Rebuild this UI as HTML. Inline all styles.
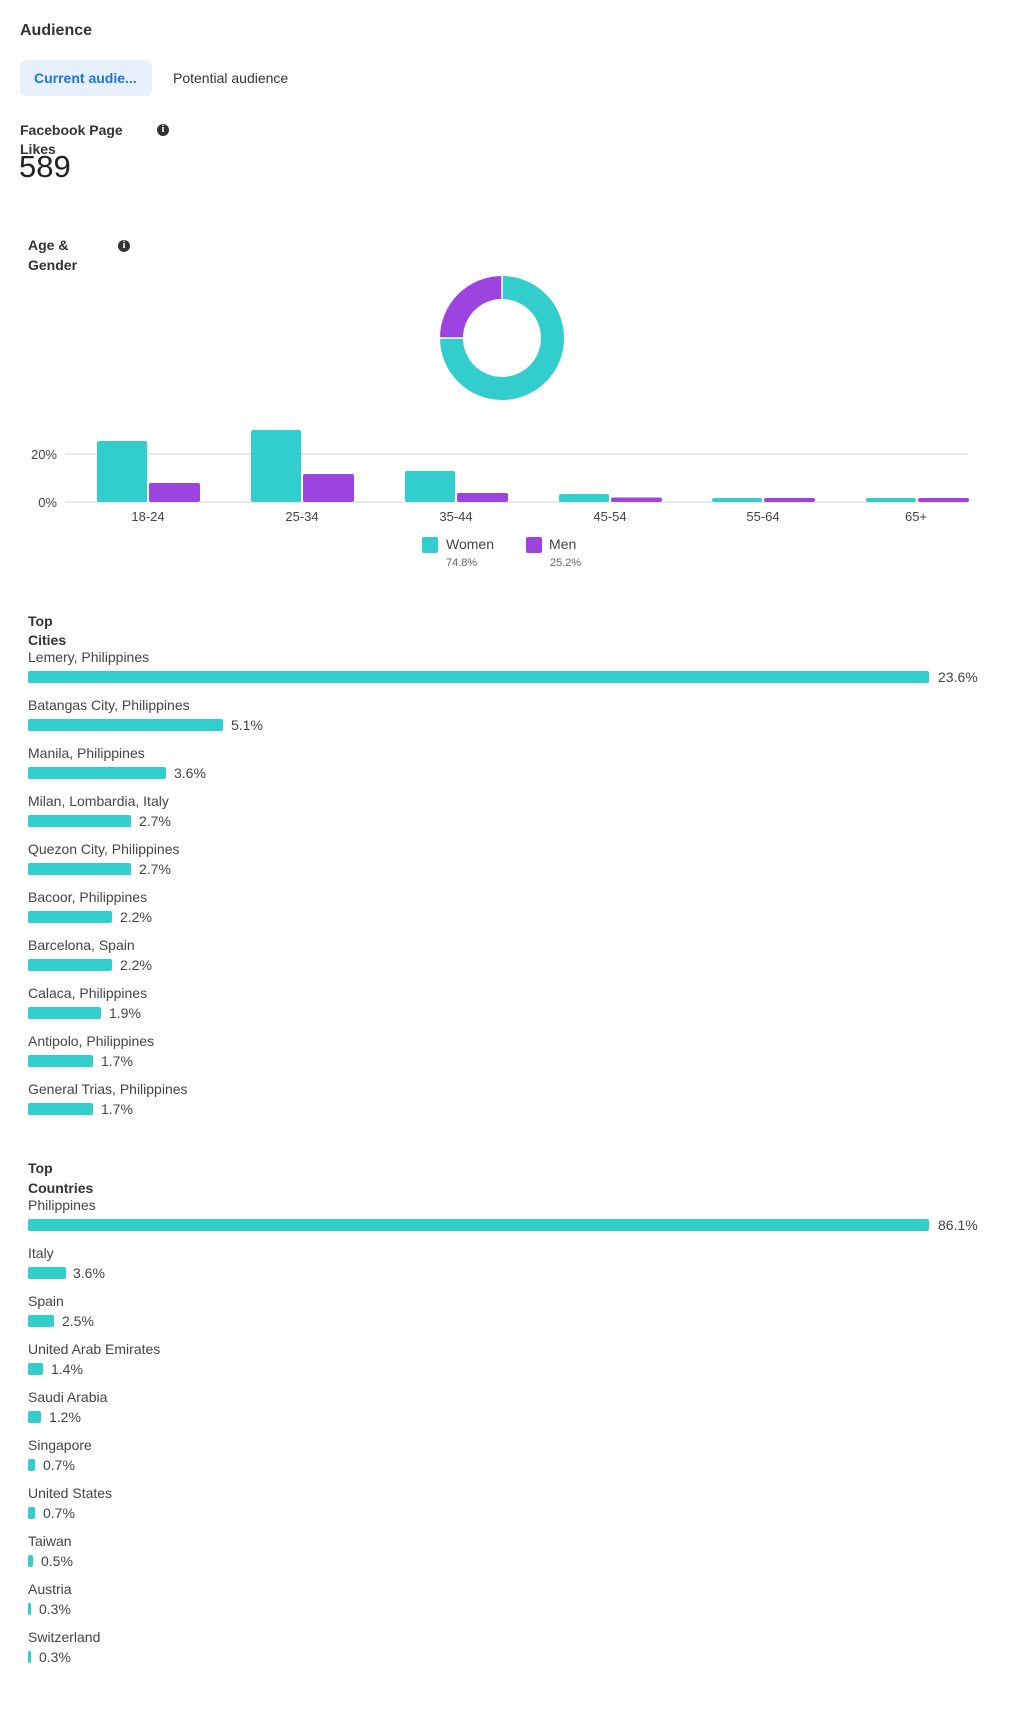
<!DOCTYPE html>
<html><head><meta charset="utf-8"><style>
body{margin:0;width:1020px;height:1711px;background:#fff;position:relative;font-family:"Liberation Sans",Arial,sans-serif;color:#444;overflow:hidden}
.a{position:absolute;white-space:nowrap}
.t{font-size:14px;line-height:16px;color:#444}
.b{font-weight:bold;color:#333}
.bar{position:absolute;height:12px;background:#32cdcd;border-radius:2px}
.info{position:absolute;width:12px;height:12px;border-radius:50%;background:#333;color:#fff;font-size:10px;line-height:12px;text-align:center;font-weight:bold;font-family:"Liberation Serif",serif}
</style></head><body>
<div class="a" style="left:20px;top:21px;font-size:16px;line-height:20px;color:#333;font-weight:bold">Audience</div>
<div class="a" style="left:20px;top:60px;width:132px;height:36px;background:#e7f0fd;border-radius:6px"></div>
<div class="a" style="left:34px;top:70px;font-size:14px;line-height:16px;color:#1a73e8;font-weight:bold">Current audie...</div>
<div class="a t" style="left:173px;top:70px;color:#333">Potential audience</div>
<div class="a t b" style="left:20px;top:122px">Facebook Page</div>
<div class="a t b" style="left:20px;top:141px">Likes</div>
<div class="info" style="left:157px;top:124px">i</div>
<div class="a" style="left:19px;top:149px;font-size:31px;line-height:36px;color:#222">589</div>

<div class="a t b" style="left:28px;top:237px">Age &amp;</div>
<div class="a t b" style="left:28px;top:257px">Gender</div>
<div class="info" style="left:118px;top:240px">i</div>

<svg class="a" style="left:0;top:0" width="1020" height="600">
<circle cx="502" cy="338" r="50.5" fill="none" stroke="#32cdcd" stroke-width="23" stroke-dasharray="237.3 80" transform="rotate(-90 502 338)"/>
<circle cx="502" cy="338" r="50.5" fill="none" stroke="#9d44e0" stroke-width="23" stroke-dasharray="80 317.3" stroke-dashoffset="-237.3" transform="rotate(-90 502 338)"/>
<line x1="502" y1="275" x2="502" y2="299" stroke="#fff" stroke-width="1.5"/>
<line x1="439" y1="338" x2="463" y2="338" stroke="#fff" stroke-width="1.5"/>
<line x1="65" y1="454" x2="968" y2="454" stroke="#e4e4e4" stroke-width="1.5"/>
<line x1="65" y1="502" x2="968" y2="502" stroke="#e4e4e4" stroke-width="1.5"/>
<g font-size="13" fill="#444" font-family="Liberation Sans,Arial,sans-serif" text-anchor="end">
<text x="57" y="459">20%</text><text x="57" y="507">0%</text></g>
<g fill="#32cdcd">
<rect x="97" y="441" width="50" height="61" rx="2"/>
<rect x="251" y="430" width="50" height="72" rx="2"/>
<rect x="405" y="471" width="50" height="31" rx="2"/>
<rect x="559" y="494" width="50" height="8" rx="2"/>
<rect x="712" y="498" width="50" height="4" rx="2"/>
<rect x="866" y="498" width="50" height="4" rx="2"/>
</g>
<g fill="#9d44e0">
<rect x="149" y="483" width="51" height="19" rx="2"/>
<rect x="303" y="474" width="51" height="28" rx="2"/>
<rect x="457" y="493" width="51" height="9" rx="2"/>
<rect x="611" y="497.5" width="51" height="4.5" rx="2"/>
<rect x="764" y="498" width="51" height="4" rx="2"/>
<rect x="918" y="498" width="51" height="4" rx="2"/>
</g>
<g font-size="13" fill="#444" font-family="Liberation Sans,Arial,sans-serif" text-anchor="middle">
<text x="148" y="521">18-24</text><text x="302" y="521">25-34</text><text x="456" y="521">35-44</text><text x="610" y="521">45-54</text><text x="763" y="521">55-64</text><text x="916" y="521">65+</text></g>
<rect x="422" y="537" width="16" height="16" rx="2" fill="#32cdcd"/>
<rect x="526" y="537" width="16" height="16" rx="2" fill="#9d44e0"/>
<g font-family="Liberation Sans,Arial,sans-serif" fill="#444">
<text x="446" y="549" font-size="14">Women</text><text x="549" y="549" font-size="14">Men</text>
<text x="446" y="566" font-size="11" fill="#666">74.8%</text><text x="550" y="566" font-size="11" fill="#666">25.2%</text></g>
</svg>

<div class="a t b" style="left:28px;top:613px">Top</div>
<div class="a t b" style="left:28px;top:632px">Cities</div>
<div class="a t" style="left:28px;top:649px">Lemery, Philippines</div><div class="bar" style="left:28px;top:671px;width:901px"></div><div class="a t" style="left:938px;top:669px">23.6%</div>
<div class="a t" style="left:28px;top:697px">Batangas City, Philippines</div><div class="bar" style="left:28px;top:719px;width:195px"></div><div class="a t" style="left:231px;top:717px">5.1%</div>
<div class="a t" style="left:28px;top:745px">Manila, Philippines</div><div class="bar" style="left:28px;top:767px;width:138px"></div><div class="a t" style="left:174px;top:765px">3.6%</div>
<div class="a t" style="left:28px;top:793px">Milan, Lombardia, Italy</div><div class="bar" style="left:28px;top:815px;width:103px"></div><div class="a t" style="left:139px;top:813px">2.7%</div>
<div class="a t" style="left:28px;top:841px">Quezon City, Philippines</div><div class="bar" style="left:28px;top:863px;width:103px"></div><div class="a t" style="left:139px;top:861px">2.7%</div>
<div class="a t" style="left:28px;top:889px">Bacoor, Philippines</div><div class="bar" style="left:28px;top:911px;width:84px"></div><div class="a t" style="left:120px;top:909px">2.2%</div>
<div class="a t" style="left:28px;top:937px">Barcelona, Spain</div><div class="bar" style="left:28px;top:959px;width:84px"></div><div class="a t" style="left:120px;top:957px">2.2%</div>
<div class="a t" style="left:28px;top:985px">Calaca, Philippines</div><div class="bar" style="left:28px;top:1007px;width:73px"></div><div class="a t" style="left:109px;top:1005px">1.9%</div>
<div class="a t" style="left:28px;top:1033px">Antipolo, Philippines</div><div class="bar" style="left:28px;top:1055px;width:65px"></div><div class="a t" style="left:101px;top:1053px">1.7%</div>
<div class="a t" style="left:28px;top:1081px">General Trias, Philippines</div><div class="bar" style="left:28px;top:1103px;width:65px"></div><div class="a t" style="left:101px;top:1101px">1.7%</div>

<div class="a t b" style="left:28px;top:1160px">Top</div>
<div class="a t b" style="left:28px;top:1180px">Countries</div>
<div class="a t" style="left:28px;top:1197px">Philippines</div><div class="bar" style="left:28px;top:1219px;width:901px"></div><div class="a t" style="left:938px;top:1217px">86.1%</div>
<div class="a t" style="left:28px;top:1245px">Italy</div><div class="bar" style="left:28px;top:1267px;width:38px"></div><div class="a t" style="left:73px;top:1265px">3.6%</div>
<div class="a t" style="left:28px;top:1293px">Spain</div><div class="bar" style="left:28px;top:1315px;width:26px"></div><div class="a t" style="left:62px;top:1313px">2.5%</div>
<div class="a t" style="left:28px;top:1341px">United Arab Emirates</div><div class="bar" style="left:28px;top:1363px;width:15px"></div><div class="a t" style="left:51px;top:1361px">1.4%</div>
<div class="a t" style="left:28px;top:1389px">Saudi Arabia</div><div class="bar" style="left:28px;top:1411px;width:13px"></div><div class="a t" style="left:49px;top:1409px">1.2%</div>
<div class="a t" style="left:28px;top:1437px">Singapore</div><div class="bar" style="left:28px;top:1459px;width:7px"></div><div class="a t" style="left:43px;top:1457px">0.7%</div>
<div class="a t" style="left:28px;top:1485px">United States</div><div class="bar" style="left:28px;top:1507px;width:7px"></div><div class="a t" style="left:43px;top:1505px">0.7%</div>
<div class="a t" style="left:28px;top:1533px">Taiwan</div><div class="bar" style="left:28px;top:1555px;width:5px"></div><div class="a t" style="left:41px;top:1553px">0.5%</div>
<div class="a t" style="left:28px;top:1581px">Austria</div><div class="bar" style="left:28px;top:1603px;width:3px"></div><div class="a t" style="left:39px;top:1601px">0.3%</div>
<div class="a t" style="left:28px;top:1629px">Switzerland</div><div class="bar" style="left:28px;top:1651px;width:3px"></div><div class="a t" style="left:39px;top:1649px">0.3%</div>
</body></html>
